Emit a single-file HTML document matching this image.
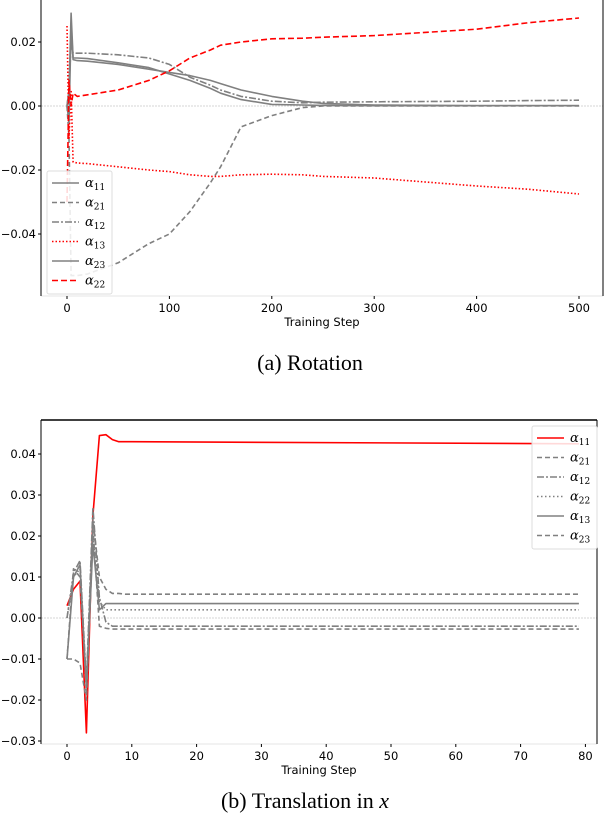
<!DOCTYPE html>
<html><head><meta charset="utf-8"><style>
html,body{margin:0;padding:0;background:#fff;width:604px;height:822px;overflow:hidden}
svg{display:block}
</style></head><body>
<svg id="fig" width="604" height="822" xmlns="http://www.w3.org/2000/svg" font-family="DejaVu Sans, Liberation Sans, sans-serif"></svg>
<script>
// ---- Chart (a) Rotation data ----
const rotSteps = [0,2,4,6,10,20,50,80,100,120,140,150,170,200,230,250,300,400,450,500];
const rotA11 = [0,0.005,0.029,0.015,0.015,0.0148,0.0135,0.012,0.010,0.008,0.0055,0.004,0.002,0.0005,0.0003,0.0002,0.0001,0.0001,0.0001,0.0001];
const rotA21 = [0,-0.01,-0.053,-0.053,-0.053,-0.0525,-0.049,-0.043,-0.04,-0.033,-0.024,-0.019,-0.0065,-0.003,-0.0005,0,0,0,0,0];
const rotA12 = [0,0.005,0.02,0.0165,0.0165,0.0165,0.016,0.015,0.013,0.009,0.0065,0.005,0.003,0.0015,0.001,0.0012,0.0013,0.0015,0.0017,0.0018];
const rotA13 = [0.025,-0.01,0.005,-0.0175,-0.0178,-0.018,-0.019,-0.02,-0.0205,-0.0215,-0.022,-0.022,-0.0215,-0.0213,-0.0215,-0.022,-0.0225,-0.025,-0.026,-0.0275];
const rotA23 = [0,-0.005,0.025,0.0145,0.0142,0.014,0.013,0.0115,0.0105,0.0095,0.008,0.007,0.005,0.003,0.0015,0.0008,0.0003,0.0001,0.0001,0.0001];
const rotA22 = [-0.03,0.008,0.0,0.004,0.003,0.0035,0.005,0.008,0.011,0.015,0.0175,0.019,0.020,0.021,0.0212,0.0215,0.022,0.024,0.026,0.0275];
const rotXTicks = [0,100,200,300,400,500];
const rotYTicks = [0.02,0.00,-0.02,-0.04];
const rotYLabels = ["0.02","0.00","\u22120.02","\u22120.04"];

// ---- Chart (b) Translation data ----
const trSteps = [0,1,2,3,4,5,6,7,8,9,10,79];
const trA11 = [0.003,0.007,0.009,-0.028,0.025,0.0445,0.0447,0.0435,0.043,0.043,0.043,0.0425];
const trA21 = [-0.01,0.012,0.010,-0.017,0.024,0.010,0.007,0.006,0.006,0.0058,0.0058,0.0058];
const trA12 = [0,0.011,0.014,-0.016,0.027,0.005,-0.001,-0.002,-0.002,-0.002,-0.002,-0.002];
const trA22 = [0,0.010,0.012,-0.018,0.020,0.004,0.002,0.002,0.002,0.002,0.002,0.002];
const trA13 = [-0.01,0.010,0.013,-0.017,0.018,0.002,0.0035,0.0035,0.0035,0.0035,0.0035,0.0035];
const trA23 = [-0.01,-0.010,-0.011,-0.020,0.022,-0.002,-0.0025,-0.0027,-0.0027,-0.0027,-0.0027,-0.0027];
const trXTicks = [0,10,20,30,40,50,60,70,80];
const trYTicks = [0.04,0.03,0.02,0.01,0.00,-0.01,-0.02,-0.03];
const trYLabels = ["0.04","0.03","0.02","0.01","0.00","\u22120.01","\u22120.02","\u22120.03"];

const NS="http://www.w3.org/2000/svg";
const svg=document.getElementById('fig');
function mk(tag,attrs,parent){const e=document.createElementNS(NS,tag);for(const k in attrs)e.setAttribute(k,attrs[k]);(parent||svg).appendChild(e);return e;}

function chart(cfg){
  const g=mk('g',{});
  
  
  const X=v=>cfg.x0+v*cfg.xs, Y=v=>cfg.y0-v*cfg.ys;
  const z=mk('line',{x1:cfg.L,x2:cfg.R,y1:Y(0),y2:Y(0),stroke:'#c8c8c8','stroke-width':0.8,'stroke-dasharray':'2,1'},g);
  
  
  cfg.series.forEach(s=>{
    const pts=cfg.steps.map((t,i)=>X(t).toFixed(1)+','+Y(s.vals[i]).toFixed(1)).join(' ');
    const p=mk('polyline',{points:pts,fill:'none',stroke:s.color,'stroke-width':1.6,'stroke-dasharray':s.dash||'none','stroke-linejoin':'round'},g);
    
    
  });
  mk('line',{x1:cfg.L,x2:cfg.R,y1:cfg.B,y2:cfg.B,stroke:'#e6e6e6','stroke-width':1},g);
  mk('line',{x1:cfg.L,x2:cfg.L,y1:cfg.T,y2:cfg.B,stroke:'#000','stroke-width':1},g);
  mk('line',{x1:cfg.R,x2:cfg.R,y1:cfg.T,y2:cfg.B,stroke:'#000','stroke-width':1},g);
  if(cfg.topSpine) mk('line',{x1:cfg.L,x2:cfg.R,y1:cfg.T,y2:cfg.T,stroke:'#000','stroke-width':1.5},g);
  cfg.xt.forEach(t=>{
    mk('line',{x1:X(t),x2:X(t),y1:cfg.B,y2:cfg.B+3,stroke:'#000'},g);
    const tx=mk('text',{x:X(t),y:cfg.B+16,'text-anchor':'middle','font-size':11.5,fill:'#000'},g);
    tx.textContent=t;
    
    
  });
  cfg.yt.forEach((t,i)=>{
    mk('line',{x1:cfg.L-3,x2:cfg.L,y1:Y(t),y2:Y(t),stroke:'#000'},g);
    const tx=mk('text',{x:cfg.L-5,y:Y(t)+4,'text-anchor':'end','font-size':11.5,fill:'#000'},g);
    tx.textContent=cfg.yl[i];
    
    
  });
  const xl=mk('text',{x:(cfg.L+cfg.R)/2,y:cfg.B+30,'text-anchor':'middle','font-size':11.5},g);
  xl.textContent='Training Step';
  
  
  const lg=mk('g',{},g);
  
  
  mk('rect',{x:cfg.lx,y:cfg.ly,width:65,height:cfg.series.length*19.5+6,rx:2,fill:'#fff','fill-opacity':0.85,stroke:'#ddd'},lg);
  cfg.series.forEach((s,i)=>{
    const yy=cfg.ly+12+i*19.5;
    mk('line',{x1:cfg.lx+5,x2:cfg.lx+32,y1:yy,y2:yy,stroke:s.color,'stroke-width':1.6,'stroke-dasharray':s.dash||'none'},lg);
    const t=mk('text',{x:cfg.lx+38,y:yy+4,'font-size':13,'font-style':'italic','font-family':'DejaVu Serif, Liberation Serif, serif'},lg);
    t.innerHTML='\u03b1<tspan font-size="9" dy="3" font-style="normal">'+s.label+'</tspan>';
    
    
  });
}

chart({name:'rotation-chart',L:41,R:603,T:0,B:296,x0:67,xs:1.024,y0:106,ys:3200,
  steps:rotSteps,xt:rotXTicks,yt:rotYTicks,yl:rotYLabels,lx:47,ly:171,topSpine:false,
  series:[
    {key:'a11',label:'11',vals:rotA11,color:'#808080'},
    {key:'a21',label:'21',vals:rotA21,color:'#808080',dash:'5,3'},
    {key:'a12',label:'12',vals:rotA12,color:'#808080',dash:'7,2,2,2'},
    {key:'a13',label:'13',vals:rotA13,color:'#ff0000',dash:'1.5,2'},
    {key:'a23',label:'23',vals:rotA23,color:'#808080'},
    {key:'a22',label:'22',vals:rotA22,color:'#ff0000',dash:'6,3'}
  ]});

chart({name:'translation-chart',L:41,R:597,T:420,B:744,x0:67,xs:6.48,y0:618,ys:4100,
  steps:trSteps,xt:trXTicks,yt:trYTicks,yl:trYLabels,lx:532,ly:426,topSpine:true,
  series:[
    {key:'a11',label:'11',vals:trA11,color:'#ff0000'},
    {key:'a21',label:'21',vals:trA21,color:'#808080',dash:'5,3'},
    {key:'a12',label:'12',vals:trA12,color:'#808080',dash:'7,2,2,2'},
    {key:'a22',label:'22',vals:trA22,color:'#808080',dash:'1.5,2.5'},
    {key:'a13',label:'13',vals:trA13,color:'#808080'},
    {key:'a23',label:'23',vals:trA23,color:'#808080',dash:'5,3'}
  ]});

const c1=mk('text',{x:310,y:370,'text-anchor':'middle','font-size':22,'font-family':'Liberation Serif, serif'});
c1.textContent='(a) Rotation';


const c2=mk('text',{x:305,y:808,'text-anchor':'middle','font-size':22,'font-family':'Liberation Serif, serif'});
c2.innerHTML='(b) Translation in <tspan font-style="italic">x</tspan>';


</script>
</body></html>
